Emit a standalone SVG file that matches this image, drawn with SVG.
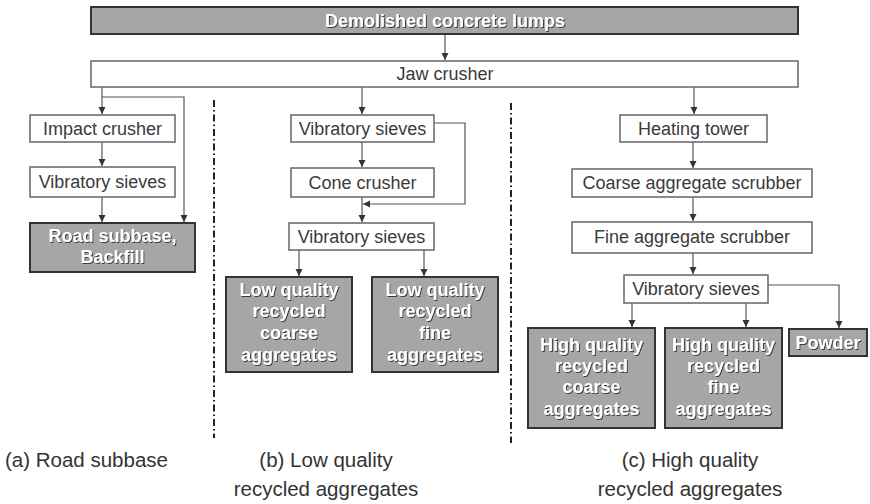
<svg xmlns="http://www.w3.org/2000/svg" width="870" height="504" viewBox="0 0 870 504">
  <defs>
    <marker id="arrow" markerUnits="userSpaceOnUse" markerWidth="8" markerHeight="8" refX="7" refY="3.5" orient="auto">
      <path d="M0,0 L7,3.5 L0,7 z" fill="#333"/>
    </marker>
    <filter id="emboss" x="-10%" y="-30%" width="120%" height="160%">
      <feDropShadow dx="1" dy="1" stdDeviation="0.6" flood-color="#333" flood-opacity="0.9"/>
    </filter>
  </defs>
  <style>
    .box { fill: #fff; stroke: #666; stroke-width: 1.5; }
    .out { fill: #a6a6a6; stroke: #333; stroke-width: 2; }
    .lbl { font-family: "Liberation Sans", Arial, sans-serif; font-size: 18px; fill: #3a3a3a; text-anchor: middle; }
    .olbl { font-family: "Liberation Sans", Arial, sans-serif; font-size: 18px; font-weight: bold; fill: #fff; text-anchor: middle; filter: url(#emboss); }
    .cap { font-family: "Liberation Sans", Arial, sans-serif; font-size: 20.5px; fill: #333; }
    .edge { fill: none; stroke: #555; stroke-width: 1.2; }
    .sep { fill: none; stroke: #222; stroke-width: 2; stroke-dasharray: 7 3 1.5 3; }
  </style>
  <rect width="870" height="504" fill="#fff"/>

  <!-- section separators -->
  <g id="separators">
    <line class="sep" x1="214" y1="100" x2="214" y2="438"/>
    <line class="sep" x1="511" y1="103" x2="511" y2="443"/>
  </g>

  <!-- connectors -->
  <g id="connectors">
    <path class="edge" d="M445,34 V60" marker-end="url(#arrow)"/>
    <!-- (a) road subbase -->
    <path class="edge" d="M102,87 V114" marker-end="url(#arrow)"/>
    <path class="edge" d="M102,97 H184 V222" marker-end="url(#arrow)"/>
    <path class="edge" d="M102,142 V166" marker-end="url(#arrow)"/>
    <path class="edge" d="M102,197 V222" marker-end="url(#arrow)"/>
    <!-- (b) low quality -->
    <path class="edge" d="M362,87 V114" marker-end="url(#arrow)"/>
    <path class="edge" d="M362,142 V167" marker-end="url(#arrow)"/>
    <path class="edge" d="M362,197 V222" marker-end="url(#arrow)"/>
    <path class="edge" d="M434,123 H465 V204 H363" marker-end="url(#arrow)"/>
    <path class="edge" d="M299,250 V276" marker-end="url(#arrow)"/>
    <path class="edge" d="M424,250 V276" marker-end="url(#arrow)"/>
    <!-- (c) high quality -->
    <path class="edge" d="M694,87 V114" marker-end="url(#arrow)"/>
    <path class="edge" d="M693,142 V168" marker-end="url(#arrow)"/>
    <path class="edge" d="M693,197 V221" marker-end="url(#arrow)"/>
    <path class="edge" d="M693,253 V274" marker-end="url(#arrow)"/>
    <path class="edge" d="M632,303 V327" marker-end="url(#arrow)"/>
    <path class="edge" d="M746,303 V327" marker-end="url(#arrow)"/>
    <path class="edge" d="M768,285 H839 V328" marker-end="url(#arrow)"/>
  </g>

  <g id="demolished">
    <rect class="out" x="91" y="7" width="707" height="27"/>
    <text class="olbl" x="445" y="27">Demolished concrete lumps</text>
  </g>
  <g id="jaw-crusher">
    <rect class="box" x="91" y="61" width="707" height="26"/>
    <text class="lbl" x="445" y="80">Jaw crusher</text>
  </g>

  <!-- (a) -->
  <g id="impact-crusher">
    <rect class="box" x="30" y="115" width="145" height="27"/>
    <text class="lbl" x="102.5" y="135">Impact crusher</text>
  </g>
  <g id="sieves-a">
    <rect class="box" x="30" y="167" width="145" height="30"/>
    <text class="lbl" x="102.5" y="188">Vibratory sieves</text>
  </g>
  <g id="road-subbase">
    <rect class="out" x="30" y="223" width="165" height="49"/>
    <text class="olbl" x="112.5" y="242">Road subbase,</text>
    <text class="olbl" x="112.5" y="263">Backfill</text>
  </g>

  <!-- (b) -->
  <g id="sieves-b1">
    <rect class="box" x="291" y="115" width="143" height="27"/>
    <text class="lbl" x="362.5" y="135">Vibratory sieves</text>
  </g>
  <g id="cone-crusher">
    <rect class="box" x="291" y="168" width="143" height="29"/>
    <text class="lbl" x="362.5" y="189">Cone crusher</text>
  </g>
  <g id="sieves-b2">
    <rect class="box" x="289" y="223" width="145" height="27"/>
    <text class="lbl" x="361.5" y="243">Vibratory sieves</text>
  </g>
  <g id="lq-coarse">
    <rect class="out" x="226" y="277" width="126" height="95"/>
    <text class="olbl" x="289" y="296">Low quality</text>
    <text class="olbl" x="289" y="317">recycled</text>
    <text class="olbl" x="289" y="339">coarse</text>
    <text class="olbl" x="289" y="361">aggregates</text>
  </g>
  <g id="lq-fine">
    <rect class="out" x="372" y="277" width="126" height="95"/>
    <text class="olbl" x="435" y="296">Low quality</text>
    <text class="olbl" x="435" y="317">recycled</text>
    <text class="olbl" x="435" y="339">fine</text>
    <text class="olbl" x="435" y="361">aggregates</text>
  </g>

  <!-- (c) -->
  <g id="heating-tower">
    <rect class="box" x="620" y="115" width="147" height="27"/>
    <text class="lbl" x="693.5" y="135">Heating tower</text>
  </g>
  <g id="coarse-scrubber">
    <rect class="box" x="572" y="169" width="240" height="28"/>
    <text class="lbl" x="692" y="189">Coarse aggregate scrubber</text>
  </g>
  <g id="fine-scrubber">
    <rect class="box" x="572" y="222" width="240" height="31"/>
    <text class="lbl" x="692" y="243">Fine aggregate scrubber</text>
  </g>
  <g id="sieves-c">
    <rect class="box" x="624" y="275" width="144" height="28"/>
    <text class="lbl" x="696" y="295">Vibratory sieves</text>
  </g>
  <g id="hq-coarse">
    <rect class="out" x="528" y="328" width="127" height="100"/>
    <text class="olbl" x="591.5" y="351">High quality</text>
    <text class="olbl" x="591.5" y="372">recycled</text>
    <text class="olbl" x="591.5" y="393">coarse</text>
    <text class="olbl" x="591.5" y="415">aggregates</text>
  </g>
  <g id="hq-fine">
    <rect class="out" x="665" y="328" width="117" height="100"/>
    <text class="olbl" x="723.5" y="351">High quality</text>
    <text class="olbl" x="723.5" y="372">recycled</text>
    <text class="olbl" x="723.5" y="393">fine</text>
    <text class="olbl" x="723.5" y="415">aggregates</text>
  </g>
  <g id="powder">
    <rect class="out" x="789" y="329" width="78" height="27"/>
    <text class="olbl" x="828" y="349">Powder</text>
  </g>

  <!-- section captions -->
  <g id="captions">
    <text class="cap" x="5" y="467">(a) Road subbase</text>
    <text class="cap" x="326" y="467" text-anchor="middle">(b) Low quality</text>
    <text class="cap" x="326" y="496" text-anchor="middle">recycled aggregates</text>
    <text class="cap" x="690" y="467" text-anchor="middle">(c) High quality</text>
    <text class="cap" x="690" y="496" text-anchor="middle">recycled aggregates</text>
  </g>
</svg>
